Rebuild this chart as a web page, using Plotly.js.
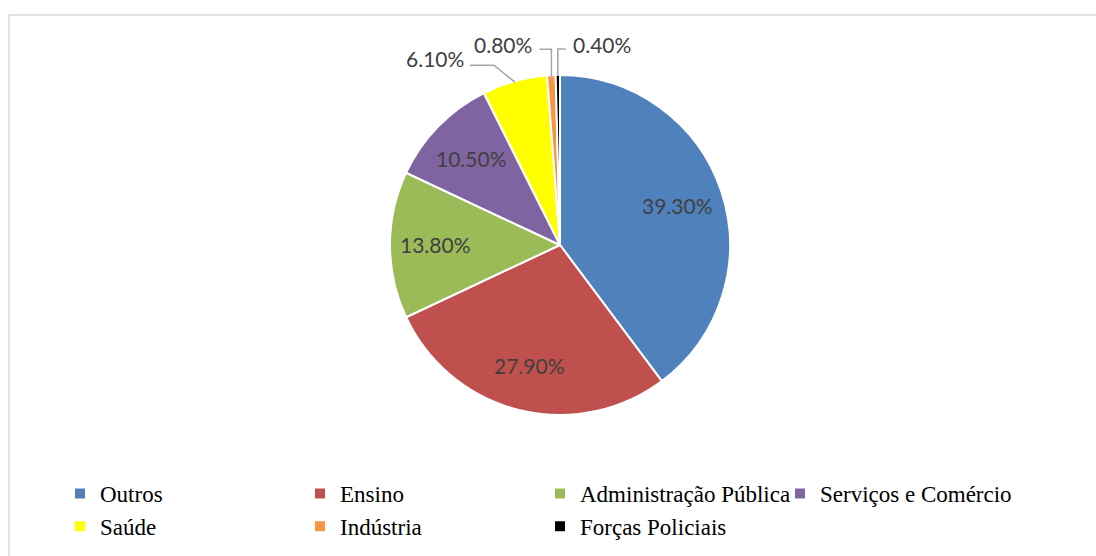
<!DOCTYPE html>
<html><head><meta charset="utf-8">
<script src="https://cdn.plot.ly/plotly-3.0.1.min.js"></script>
<style>body{margin:0;padding:0;background:#fff}#chart{width:1096px;height:556px}</style>
</head><body><div id="chart"></div>
<script>
const categories = ["Outros","Ensino","Administração Pública","Serviços e Comércio","Saúde","Indústria","Forças Policiais"];
const values = [39.3, 27.9, 13.8, 10.5, 6.1, 0.8, 0.4];
const labelsText = ["39.30%","27.90%","13.80%","10.50%","6.10%","0.80%","0.40%"];
const colors = ["#4F81BD","#C0504D","#9BBB59","#8064A2","#FFFF00","#F79646","#000000"];
// which slices get an outside label with a leader line
const outsideLabel = [false,false,false,false,true,true,true];

const W = 1096, H = 556;
const dom = {x: [390/W, 730/W], y: [1-415/H, 1-75/H]};
const labelFont = {family: "Lato, Liberation Sans, Arial, sans-serif", size: 21, color: "#404040"};
const insideRadiusFrac = 0.73;

// leader-line styling for outside labels
const leaderStyle = {
  4: {dx: -21, dy: -17, run: -24, gap: 4, lift: 7},
  5: {dx: 0, dy: -27, run: -12, gap: 5, lift: 5},
  6: {dx: 0, dy: -27, run: 8, gap: 5, lift: 5}
};

const trace = {
  type: "pie",
  labels: categories,
  values: values,
  textinfo: "none",
  sort: false,
  direction: "clockwise",
  rotation: 0,
  marker: {colors: colors, line: {color: "#ffffff", width: 2}},
  domain: dom,
  hoverinfo: "none"
};

// label positions computed from the data (slice mid-angles)
const total = values.reduce((a,b)=>a+b,0);
const cx = (dom.x[0]+dom.x[1])/2*W, cy = (1-(dom.y[0]+dom.y[1])/2)*H;
const R = Math.min(dom.x[1]-dom.x[0], (dom.y[1]-dom.y[0])*H/W)*W/2;
const px = x => x/W, py = y => 1 - y/H;
const shapes = [{type: "rect", xref: "paper", yref: "paper", x0: 9/W, x1: 1.2, y0: -0.3, y1: 1-15/H,
    line: {color: "#d9d9d9", width: 1.5}, fillcolor: "rgba(0,0,0,0)", layer: "below"}];
const annotations = [];
let cum = 0;
values.forEach((v,i) => {
  const mid = (cum + v/2)/total; cum += v;
  const a = mid*2*Math.PI;
  if (!outsideLabel[i]) {
    const r = R*insideRadiusFrac;
    annotations.push({xref: "paper", yref: "paper", showarrow: false,
      x: px(cx + r*Math.sin(a)), y: py(cy - r*Math.cos(a)),
      xanchor: "center", yanchor: "middle", text: labelsText[i], font: labelFont});
    return;
  }
  const x0 = cx + (R-1)*Math.sin(a), y0 = cy - (R-1)*Math.cos(a);
  const s = leaderStyle[i];
  const x1 = x0 + s.dx, y1 = y0 + s.dy, x2 = x1 + s.run;
  shapes.push({type: "path", xref: "paper", yref: "paper",
    path: `M${px(x0)},${py(y0)} L${px(x1)},${py(y1)} L${px(x2)},${py(y1)}`,
    line: {color: "#a6a6a6", width: 1.5}});
  const right = s.run < 0;
  annotations.push({xref: "paper", yref: "paper", showarrow: false,
    x: px(x2 + (right ? -s.gap : s.gap)), y: py(y1 - s.lift),
    xanchor: right ? "right" : "left", yanchor: "middle",
    text: labelsText[i], font: labelFont});
});

const layout = {
  width: W, height: H,
  margin: {l:0, r:0, t:0, b:0},
  paper_bgcolor: "#ffffff",
  showlegend: true,
  legend: {
    orientation: "h", x: 60/W, xanchor: "left", y: 1-472/H, yanchor: "top",
    entrywidth: 195, entrywidthmode: "pixels",
    font: {family: "Liberation Serif, Times New Roman, serif", size: 23, color: "#000000"},
    itemwidth: 30, bgcolor: "rgba(0,0,0,0)"
  },
  shapes: shapes,
  annotations: annotations
};

Plotly.newPlot("chart", [trace], layout, {displayModeBar: false, staticPlot: true});
</script></body></html>
